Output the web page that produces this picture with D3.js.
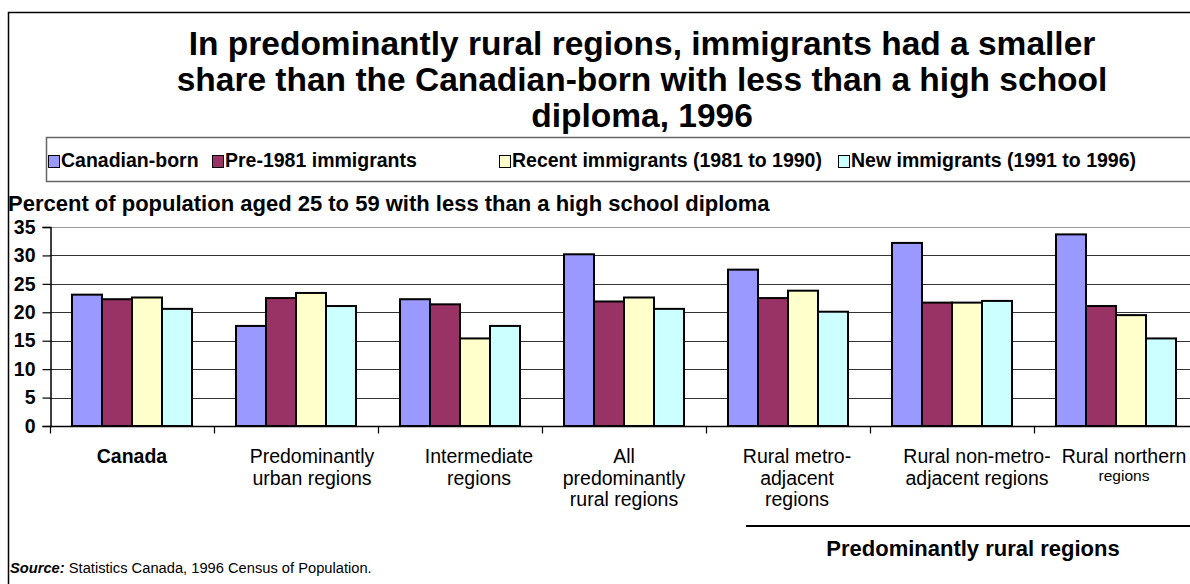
<!DOCTYPE html>
<html>
<head>
<meta charset="utf-8">
<script src="https://cdn.jsdelivr.net/npm/d3@7"></script>
<style>
  html, body { margin: 0; padding: 0; background: #fff; }
  svg { display: block; font-family: Arial, "Liberation Sans", sans-serif; }
</style>
</head>
<body>
<svg id="chart" width="1190" height="584"></svg>
<script>
// Regions (label lines separated by "\n")
const categories = [
  "Canada",
  "Predominantly\nurban regions",
  "Intermediate\nregions",
  "All\npredominantly\nrural regions",
  "Rural metro-\nadjacent\nregions",
  "Rural non-metro-\nadjacent regions",
  "Rural northern\nregions"
];

const seriesNames = [
  "Canadian-born",
  "Pre-1981 immigrants",
  "Recent immigrants (1981 to 1990)",
  "New immigrants (1991 to 1996)"
];

// Percent of population aged 25 to 59 with less than a high school diploma
const canadianBorn = [23.1, 17.6, 22.3, 30.2, 27.5, 32.2, 33.7];
const pre1981      = [22.3, 22.5, 21.4, 21.9, 22.5, 21.7, 21.1];
const recent       = [22.6, 23.4, 15.4, 22.6, 23.8, 21.7, 19.5];
const newArrivals  = [20.6, 21.1, 17.6, 20.6, 20.1, 22.0, 15.4];

const yTicks = [0, 5, 10, 15, 20, 25, 30, 35];

const titleLines = [
  "In predominantly rural regions, immigrants had a smaller",
  "share than the Canadian-born with less than a high school",
  "diploma, 1996"
];
const yTitle = "Percent of population aged 25 to 59 with less than a high school diploma";
const groupTitle = "Predominantly rural regions";

// ---- styling / layout ----
const colors = ["#9999FF", "#993366", "#FFFFCC", "#CCFFFF"];
const labelNudge = [0, 16, 19, 0, 9, 25, 8];
const boldLabel = [true, false, false, false, false, false, false];
const smallTail = [false, false, false, false, false, false, true];

const values = [canadianBorn, pre1981, recent, newArrivals];
const table = categories.map((c, i) => ({
  category: c,
  values: seriesNames.map((s, k) => ({ series: s, value: values[k][i] }))
}));

const svg = d3.select("#chart");
svg.append("rect").attr("width", 1190).attr("height", 584).attr("fill", "#fff");

// outer frame
svg.append("rect")
  .attr("x", 8.5).attr("y", 12.5)
  .attr("width", 1200).attr("height", 600)
  .attr("fill", "none").attr("stroke", "#000").attr("stroke-width", 1.5);

// title
svg.append("text")
  .attr("text-anchor", "middle")
  .attr("font-weight", "bold")
  .attr("font-size", 33.5)
  .selectAll("tspan").data(titleLines).join("tspan")
  .attr("x", 642)
  .attr("y", (d, i) => 55 + i * 36)
  .text(d => d);

// legend
const legend = svg.append("g");
legend.append("rect")
  .attr("x", 46.5).attr("y", 137.5)
  .attr("width", 1200).attr("height", 44)
  .attr("fill", "#fff").attr("stroke", "#666").attr("stroke-width", 1.5);
const legendX = [48, 212, 499, 838];
const items = legend.selectAll("g.item").data(seriesNames).join("g")
  .attr("class", "item")
  .attr("transform", (d, i) => `translate(${legendX[i]},160)`);
items.append("rect")
  .attr("x", 0.5).attr("y", -4.5)
  .attr("width", 11).attr("height", 12)
  .attr("fill", (d, i) => colors[i])
  .attr("stroke", "#000").attr("stroke-width", 1);
items.append("text")
  .attr("x", 13).attr("y", 7)
  .attr("font-weight", "bold")
  .attr("font-size", 19.5)
  .text(d => d);

// y-axis title
svg.append("text")
  .attr("x", 8).attr("y", 211)
  .attr("font-weight", "bold")
  .attr("font-size", 22)
  .text(yTitle);

// scales
const plotLeft = 50, plotBottom = 426, plotTop = 227;
const x0 = d3.scaleBand()
  .domain(categories)
  .range([plotLeft, plotLeft + 7 * 164])
  .paddingInner(0).paddingOuter(0);
const x1 = d3.scaleBand()
  .domain(seriesNames)
  .range([0, x0.bandwidth()])
  .paddingInner(0)
  .paddingOuter((164 / 30 - 4) / 2);
const y = d3.scaleLinear().domain([0, 35]).range([plotBottom, plotTop]);

// gridlines
svg.append("g").selectAll("line").data(yTicks.filter(t => t > 0)).join("line")
  .attr("x1", plotLeft).attr("x2", 1190)
  .attr("y1", d => Math.round(y(d)) + 0.5).attr("y2", d => Math.round(y(d)) + 0.5)
  .attr("stroke", d => d === 35 ? "#999" : "#333")
  .attr("stroke-width", 1.2);

// y axis
const yAxis = svg.append("g")
  .attr("transform", `translate(${plotLeft + 0.5},0)`)
  .call(d3.axisLeft(y).tickValues(yTicks).tickSize(8).tickPadding(7).tickFormat(d3.format("d")));
yAxis.select(".domain").attr("stroke", "#000").attr("stroke-width", 1.5);
yAxis.selectAll(".tick line").attr("stroke", "#000").attr("stroke-width", 1.2);
yAxis.selectAll(".tick text")
  .attr("font-family", "Arial, 'Liberation Sans', sans-serif")
  .attr("font-size", 19.5).attr("font-weight", "bold").attr("fill", "#000");

// bars
const groups = svg.append("g").selectAll("g").data(table).join("g")
  .attr("transform", d => `translate(${x0(d.category)},0)`);
groups.selectAll("rect").data(d => d.values).join("rect")
  .attr("x", d => x1(d.series))
  .attr("y", d => y(d.value))
  .attr("width", x1.bandwidth())
  .attr("height", d => y(0) - y(d.value))
  .attr("fill", (d, i) => colors[i])
  .attr("stroke", "#000").attr("stroke-width", 2);

// x axis
const xAxis = svg.append("g")
  .attr("transform", `translate(0,${plotBottom + 0.5})`);
xAxis.append("line")
  .attr("x1", plotLeft).attr("x2", 1190)
  .attr("stroke", "#000").attr("stroke-width", 1.5);
xAxis.selectAll("line.tick").data(categories).join("line")
  .attr("class", "tick")
  .attr("x1", d => Math.round(x0(d)) + 0.5).attr("x2", d => Math.round(x0(d)) + 0.5)
  .attr("y1", 0).attr("y2", 7)
  .attr("stroke", "#000").attr("stroke-width", 1.2);

const labels = svg.append("g").selectAll("text").data(categories).join("text")
  .attr("text-anchor", "middle")
  .attr("font-size", 19.5)
  .attr("font-weight", (d, i) => boldLabel[i] ? "bold" : "normal");
labels.each(function (d, i) {
  const cx = x0(d) + x0.bandwidth() / 2 + labelNudge[i];
  const lines = d.split("\n");
  d3.select(this).selectAll("tspan").data(lines).join("tspan")
    .attr("x", cx)
    .attr("y", (l, j) => 463 + j * 21.5 - (smallTail[i] && j > 0 ? 4 : 0))
    .attr("font-size", (l, j) => smallTail[i] && j > 0 ? 15.5 : null)
    .text(l => l);
});

// bracket for the predominantly rural breakdown
svg.append("line")
  .attr("x1", 746).attr("x2", 1190)
  .attr("y1", 526).attr("y2", 526)
  .attr("stroke", "#000").attr("stroke-width", 2);
svg.append("text")
  .attr("x", 973).attr("y", 556)
  .attr("text-anchor", "middle")
  .attr("font-weight", "bold").attr("font-size", 22)
  .text(groupTitle);

// source note
const src = svg.append("text").attr("x", 10).attr("y", 573).attr("font-size", 14.7);
src.append("tspan").attr("font-weight", "bold").attr("font-style", "italic").text("Source:");
src.append("tspan").text(" Statistics Canada, 1996 Census of Population.");
</script>
</body>
</html>
